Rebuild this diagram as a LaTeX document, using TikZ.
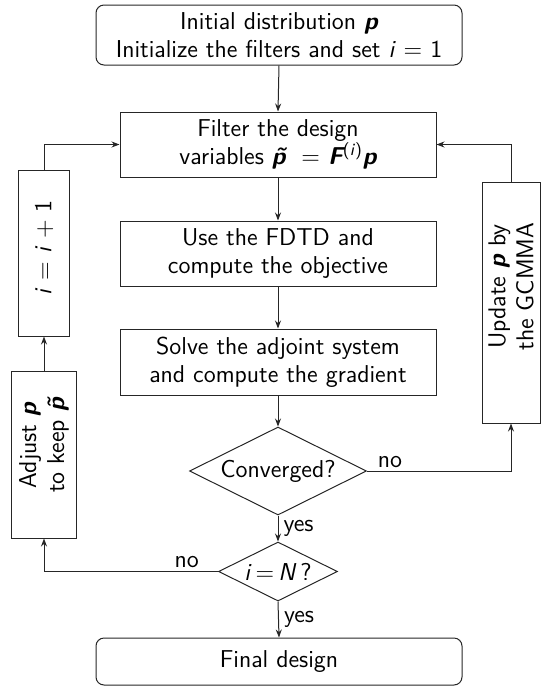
\documentclass[tikz,border=0pt]{standalone}
\usetikzlibrary{shapes.geometric,arrows.meta}
\newcommand{\bp}{{\bfseries\itshape p}}
\newcommand{\bpt}{{\bfseries\itshape \~{p}}}
\newcommand{\bF}{{\bfseries\itshape F}}
\begin{document}
\begin{tikzpicture}[x=0.5pt,y=-0.5pt,
  font=\sffamily\fontsize{12.2}{14}\selectfont,
  box/.style={draw=black!85, line width=0.5pt, rectangle, align=center, inner sep=0pt},
  rbox/.style={box, rounded corners=4pt},
  dia/.style={draw=black!85, line width=0.5pt, diamond, shape aspect=2, inner sep=0pt, align=center},
  arr/.style={draw=black!85, line width=0.5pt, -{Stealth[length=4pt,width=3pt]}},
  lab/.style={inner sep=1.5pt}]
\useasboundingbox (0,0) rectangle (541,687);

\node[rbox, minimum width=183pt, minimum height=30pt] (top) at (279,35)
  {Initial distribution \bp\\Initialize the filters and set \textit{i} = 1};
\node[box, minimum width=158pt, minimum height=32.5pt] (filter) at (278,144.5)
  {Filter the design\\variables \bpt\ \ = \bF\textsuperscript{(\textit{i})}\bp};
\node[box, minimum width=158pt, minimum height=32.5pt] (fdtd) at (278,253.5)
  {Use the FDTD and\\compute the objective};
\node[box, minimum width=158pt, minimum height=33pt] (adj) at (278,362)
  {Solve the adjoint system\\and compute the gradient};
\node[dia, minimum width=88.5pt, minimum height=44pt] (conv) at (278,471) {Converged?};
\node[dia, minimum width=59.5pt, minimum height=29.5pt] (iN) at (278,571.5) {\textit{i}\,=\,\textit{N}\,?};
\node[rbox, minimum width=183pt, minimum height=23.5pt] (final) at (279,661.5) {Final design};

\node[box, rotate=90, minimum width=83pt, minimum height=25.5pt] (inc) at (44,253)
  {\hspace*{5pt}\textit{i} = \textit{i} + 1};
\node[box, rotate=90, minimum width=83.5pt, minimum height=32.5pt] (adjust) at (44,454.5)
  {\hspace*{9pt}Adjust \bp\\\hspace*{9pt}to keep \bpt};
\node[box, rotate=90, minimum width=120.5pt, minimum height=29pt] (update) at (511,302.5)
  {\hspace*{16pt}Update \bp\ by\\\hspace*{16pt}the GCMMA};

\draw[arr] (top.south) -- (filter.north);
\draw[arr] (filter.south) -- (fdtd.north);
\draw[arr] (fdtd.south) -- (adj.north);
\draw[arr] (adj.south) -- (conv.north);
\draw[arr] (conv.south) -- node[lab, right, xshift=1pt] {yes} (iN.north);
\draw[arr] (iN.south) -- node[lab, right, xshift=1pt] {yes} (final.north);
\draw[arr] (conv.east) -| node[lab, above, pos=0.08] {no} (update.west);
\draw[arr] (update.east) |- (filter.east);
\draw[arr] (iN.west) -| node[lab, above, pos=0.09] {no} (adjust.west);
\draw[arr] (adjust.east) -- (inc.west);
\draw[arr] (inc.east) |- (filter.west);
\end{tikzpicture}
\end{document}
